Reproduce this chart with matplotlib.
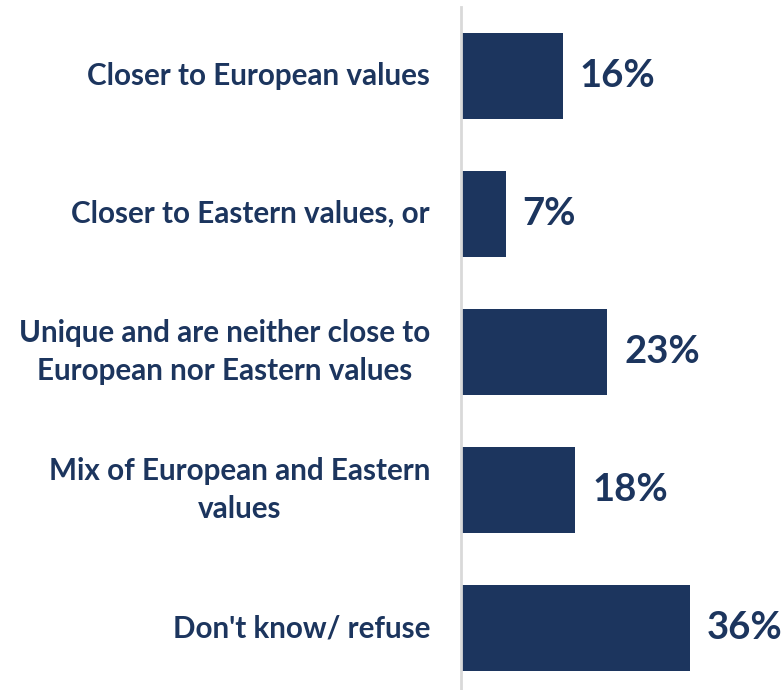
import matplotlib.pyplot as plt

categories = [
    "Closer to European values",
    "Closer to Eastern values, or",
    "Unique and are neither close to\nEuropean nor Eastern values",
    "Mix of European and Eastern\nvalues",
    "Don't know/ refuse",
]
values = [16, 7, 23, 18, 36]

navy = "#1C355E"
plt.rcParams['font.family'] = ['Lato', 'DejaVu Sans']

fig = plt.figure(figsize=(7.84, 6.9), dpi=100)
ax = fig.add_axes([461 / 784, 0, 323 / 784, 683 / 690])

pos = list(range(len(categories)))
ax.barh(pos, values, height=0.62, color=navy)
ax.set_xlim(0, 323 / 6.36)
ax.set_ylim(4.449, -0.5)

for y, v in zip(pos, values):
    ax.text(v + 2.7, y, f"{v}%", va="center", ha="left",
            fontsize=27.5, fontweight="bold", color=navy)
    ax.text(-31 / 6.36, y, categories[y], va="center", ha="right",
            multialignment="center", fontsize=21.3, fontweight="bold",
            color=navy, linespacing=1.42)

for s in ["top", "right", "bottom"]:
    ax.spines[s].set_visible(False)
ax.spines["left"].set_color("#D9D9D9")
ax.spines["left"].set_linewidth(2)
ax.set_xticks([])
ax.set_yticks([])

fig.savefig("out.png", dpi=100, facecolor="white")
